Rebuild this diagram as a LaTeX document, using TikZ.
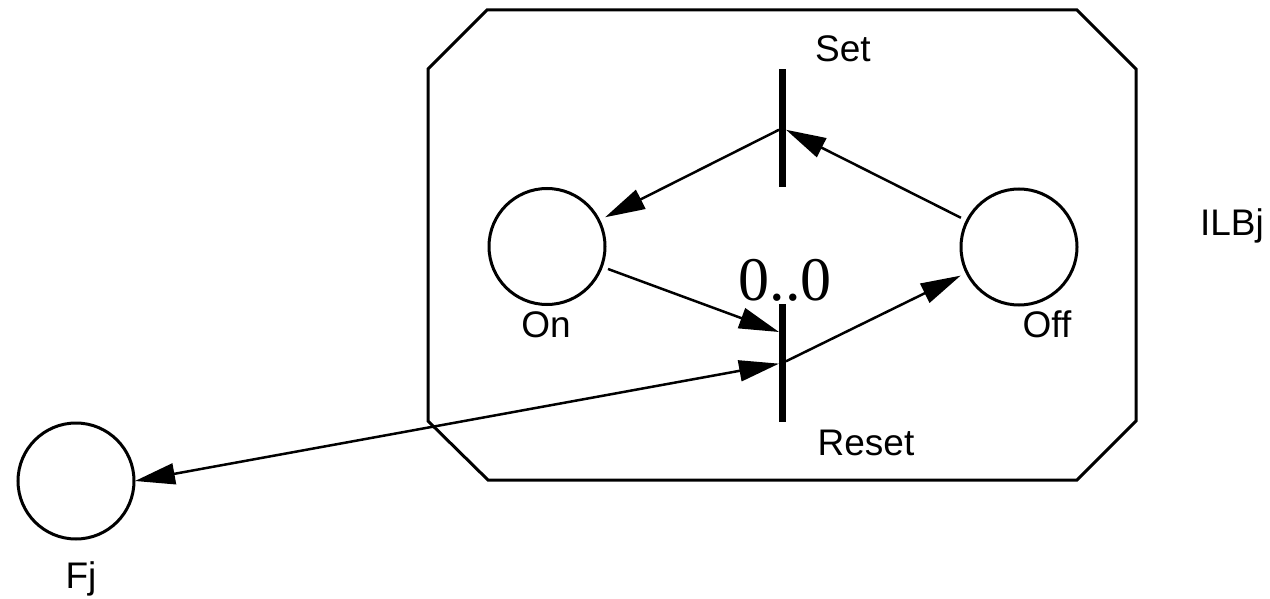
\documentclass[tikz,border=0pt]{standalone}
\usepackage{fontspec}
\setmainfont{Liberation Sans}
\newfontfamily\numfont{Liberation Serif}
\usetikzlibrary{arrows.meta}

\begin{document}
\begin{tikzpicture}[x=1pt, y=-1pt,
  >={Triangle[length=40pt, width=21pt]},
  place/.style={circle, draw, line width=3pt, minimum size=116pt, inner sep=0pt, outer sep=7pt},
  bar/.style={rectangle, fill=black, minimum width=7pt, minimum height=118pt, inner sep=0pt, outer sep=0pt},
  lbl/.style={anchor=base, inner sep=0pt, font=\fontsize{37}{44}\selectfont},
  flow/.style={line width=2.5pt}]
  \useasboundingbox (0,0) rectangle (1270,599);
  % the cut-corner frame round the net
  \draw[line width=3pt] (428,69) -- (487,10) -- (1077,10) -- (1136,69)
    -- (1136,421) -- (1077,480) -- (488,480) -- (428,421) -- cycle;
  % places
  \node[place] (On) at (547,246.5) {};
  \node[place] (Off) at (1019,247) {};
  \node[place, outer sep=1pt] (Fj) at (76,481) {};
  % transitions
  \node[bar] (SetBar) at (782.5,128) {};
  \node[bar] (ResetBar) at (782.5,363) {};
  % labels
  \node[lbl] (SetLbl) at (843,62) {Set};
  \node[lbl] (ResetLbl) at (866,455) {Reset};
  \node[lbl] (OnLbl) at (546,337) {On};
  \node[lbl] (OffLbl) at (1047,337) {Off};
  \node[lbl] (ILBjLbl) at (1232,236) {ILBj};
  \node[lbl] (FjLbl) at (81,588) {Fj};
  \node[anchor=base, inner sep=0pt, font=\numfont\fontsize{62}{70}\selectfont] (Mult) at (785,300) {0..0};
  % arcs
  \draw[flow, ->] (Off) -- (SetBar);
  \draw[flow, ->] (SetBar) -- (On);
  \draw[flow, ->] (On) -- ([yshift=31pt]ResetBar.west);
  \draw[flow, ->] (ResetBar) -- (Off);
  \draw[flow, <->] (Fj.east) -- (ResetBar);
\end{tikzpicture}
\end{document}
